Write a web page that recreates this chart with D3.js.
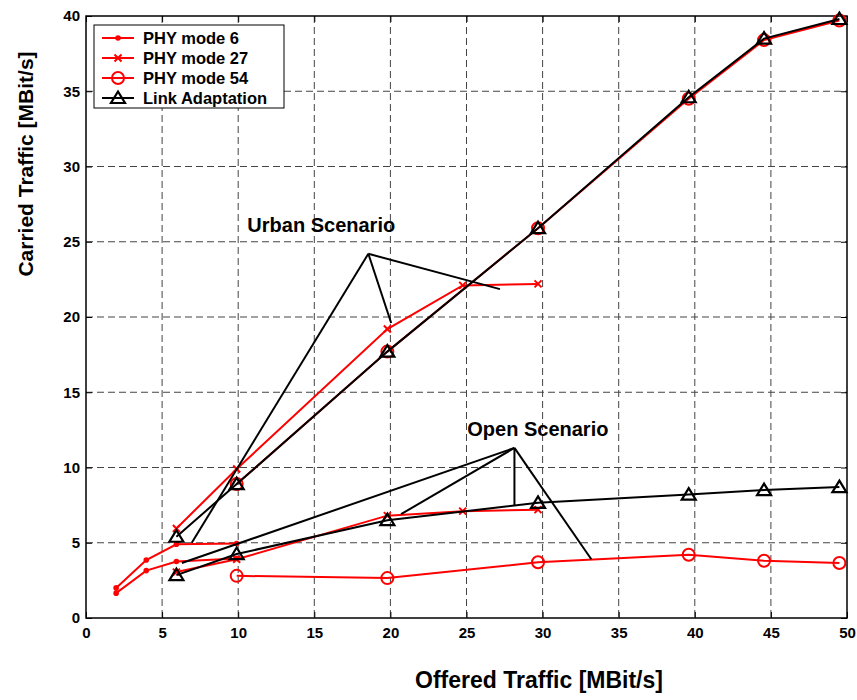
<!DOCTYPE html>
<html>
<head>
<meta charset="utf-8">
<script src="https://cdn.jsdelivr.net/npm/d3@7"></script>
<style>
  body { margin: 0; background: #fff; }
  svg { display: block; }
</style>
</head>
<body>
<script>
// Carried vs offered traffic, urban and open scenarios.

// ---------------------------------------------------------------------------
// Data
// ---------------------------------------------------------------------------

const X_TICKS = [0, 5, 10, 15, 20, 25, 30, 35, 40, 45, 50];
const Y_TICKS = [0, 5, 10, 15, 20, 25, 30, 35, 40];

const offeredLow = [1.98, 3.96, 5.94, 9.9];
const offeredMid = [5.94, 9.9, 19.8, 24.75, 29.7];
const offeredHigh = [9.9, 19.8, 29.7, 39.6, 44.55, 49.5];
const offeredLA = [5.94, 9.9, 19.8, 29.7, 39.6, 44.55, 49.5];

// urban scenario
const mode6Urban = [2.0, 3.85, 4.9, 4.95];
const mode27Urban = [5.95, 9.9, 19.2, 22.1, 22.2];
const mode54Urban = [8.9, 17.7, 25.9, 34.5, 38.4, 39.7];
const laUrban = [5.4, 8.9, 17.7, 25.9, 34.6, 38.5, 39.8];

// open scenario
const mode6Open = [1.65, 3.15, 3.75, 3.95];
const mode27Open = [3.05, 3.9, 6.8, 7.1, 7.2];
const mode54Open = [2.8, 2.65, 3.7, 4.2, 3.8, 3.65];
const laOpen = [2.85, 4.25, 6.5, 7.65, 8.2, 8.5, 8.7];

// annotation pointers: apex, then the points each line runs to
const urbanApex = [18.55, 24.2];
const urbanTargets = [[6.95, 5.0], [20.05, 19.6], [27.2, 21.85]];
const openApex = [28.15, 11.3];
const openTargets = [[6.3, 3.65], [20.7, 6.9], [28.15, 7.5], [33.2, 3.9]];

const LEGEND = ["PHY mode 6", "PHY mode 27", "PHY mode 54", "Link Adaptation"];

// ---------------------------------------------------------------------------
// Layout
// ---------------------------------------------------------------------------

const width = 857;
const height = 700;
const plot = { left: 86, right: 847, top: 16, bottom: 618 };
const RED = "#ff0000";
const FONT = "'Liberation Sans', Arial, sans-serif";

const svg = d3.select("body").append("svg")
  .attr("width", width)
  .attr("height", height)
  .attr("font-family", FONT);

svg.append("rect").attr("width", width).attr("height", height).attr("fill", "#fff");

const x = d3.scaleLinear().domain([0, 50]).range([plot.left, plot.right]);
const y = d3.scaleLinear().domain([0, 40]).range([plot.bottom, plot.top]);

// Grid.
const grid = svg.append("g")
  .attr("stroke", "#444")
  .attr("stroke-width", 1)
  .attr("stroke-dasharray", "7,4");
grid.selectAll("line.v")
  .data(X_TICKS.slice(1, -1))
  .join("line")
  .attr("x1", (d) => x(d)).attr("x2", (d) => x(d))
  .attr("y1", plot.top).attr("y2", plot.bottom);
grid.selectAll("line.h")
  .data(Y_TICKS.slice(1, -1))
  .join("line")
  .attr("x1", plot.left).attr("x2", plot.right)
  .attr("y1", (d) => y(d)).attr("y2", (d) => y(d));

// Axes (ticks point inwards, mirrored on top/right).
function styleAxis(g) {
  g.select(".domain").remove();
  g.selectAll(".tick line").attr("stroke", "#000").attr("stroke-width", 1);
  g.selectAll("text")
    .attr("font-family", FONT)
    .attr("font-size", 15)
    .attr("font-weight", "bold")
    .attr("fill", "#000");
}

svg.append("g")
  .attr("transform", `translate(0,${plot.bottom})`)
  .call(d3.axisBottom(x).tickValues(X_TICKS).tickSize(-6).tickPadding(9).tickFormat(d3.format("d")))
  .call(styleAxis);
svg.append("g")
  .attr("transform", `translate(0,${plot.top})`)
  .call(d3.axisTop(x).tickValues(X_TICKS).tickSize(-6).tickFormat(""))
  .call(styleAxis);
svg.append("g")
  .attr("transform", `translate(${plot.left},0)`)
  .call(d3.axisLeft(y).tickValues(Y_TICKS).tickSize(-6).tickPadding(6).tickFormat(d3.format("d")))
  .call(styleAxis);
svg.append("g")
  .attr("transform", `translate(${plot.right},0)`)
  .call(d3.axisRight(y).tickValues(Y_TICKS).tickSize(-6).tickFormat(""))
  .call(styleAxis);

svg.append("rect")
  .attr("x", plot.left).attr("y", plot.top)
  .attr("width", plot.right - plot.left).attr("height", plot.bottom - plot.top)
  .attr("fill", "none").attr("stroke", "#000").attr("stroke-width", 1.5);

// ---------------------------------------------------------------------------
// Series
// ---------------------------------------------------------------------------

const line = d3.line().x((d) => x(d[0])).y((d) => y(d[1]));
const zip = (xs, ys) => xs.map((v, i) => [v, ys[i]]);

function drawMarker(g, kind, color) {
  if (kind === "dot") {
    g.append("circle").attr("r", 2.8).attr("fill", color);
  } else if (kind === "x") {
    g.append("path").attr("d", "M-3.5,-3.5L3.5,3.5M-3.5,3.5L3.5,-3.5")
      .attr("stroke", color).attr("stroke-width", 2).attr("fill", "none");
  } else if (kind === "circle") {
    g.append("circle").attr("r", 6).attr("fill", "none")
      .attr("stroke", color).attr("stroke-width", 2);
  } else if (kind === "tri") {
    g.append("path").attr("d", "M0,-6.5L7,5L-7,5Z").attr("fill", "none")
      .attr("stroke", color).attr("stroke-width", 2.2).attr("stroke-linejoin", "miter");
  }
}

function drawSeries(pts, color, marker) {
  const g = svg.append("g");
  g.append("path").attr("d", line(pts))
    .attr("fill", "none").attr("stroke", color).attr("stroke-width", 2);
  for (const p of pts) {
    drawMarker(g.append("g").attr("transform", `translate(${x(p[0])},${y(p[1])})`), marker, color);
  }
}

drawSeries(zip(offeredLow, mode6Urban), RED, "dot");
drawSeries(zip(offeredLow, mode6Open), RED, "dot");
drawSeries(zip(offeredMid, mode27Urban), RED, "x");
drawSeries(zip(offeredMid, mode27Open), RED, "x");
drawSeries(zip(offeredHigh, mode54Urban), RED, "circle");
drawSeries(zip(offeredHigh, mode54Open), RED, "circle");
drawSeries(zip(offeredLA, laUrban), "#000", "tri");
drawSeries(zip(offeredLA, laOpen), "#000", "tri");

// ---------------------------------------------------------------------------
// Annotations
// ---------------------------------------------------------------------------

function pointer(apex, targets) {
  for (const t of targets) {
    svg.append("line")
      .attr("x1", x(apex[0])).attr("y1", y(apex[1]))
      .attr("x2", x(t[0])).attr("y2", y(t[1]))
      .attr("stroke", "#000").attr("stroke-width", 2);
  }
}
pointer(urbanApex, urbanTargets);
pointer(openApex, openTargets);

svg.append("text")
  .attr("x", x(10.6)).attr("y", y(25.65))
  .attr("font-size", 20).attr("font-weight", "bold")
  .text("Urban Scenario");
svg.append("text")
  .attr("x", x(25.05)).attr("y", y(12.1))
  .attr("font-size", 20).attr("font-weight", "bold")
  .text("Open Scenario");

// ---------------------------------------------------------------------------
// Axis labels
// ---------------------------------------------------------------------------

svg.append("text")
  .attr("x", 539).attr("y", 688)
  .attr("text-anchor", "middle")
  .attr("font-size", 23).attr("font-weight", "bold")
  .text("Offered Traffic [MBit/s]");
svg.append("text")
  .attr("transform", "translate(33,164) rotate(-90)")
  .attr("text-anchor", "middle")
  .attr("font-size", 21).attr("font-weight", "bold")
  .text("Carried Traffic [MBit/s]");

// ---------------------------------------------------------------------------
// Legend
// ---------------------------------------------------------------------------

const legendMarkers = ["dot", "x", "circle", "tri"];
const legendColors = [RED, RED, RED, "#000"];
const legend = svg.append("g").attr("transform", "translate(94,25)");
legend.append("rect")
  .attr("width", 190).attr("height", 83)
  .attr("fill", "#fff").attr("stroke", "#000").attr("stroke-width", 1);
LEGEND.forEach((label, i) => {
  const ly = 13 + i * 20;
  legend.append("line")
    .attr("x1", 8).attr("x2", 40).attr("y1", ly).attr("y2", ly)
    .attr("stroke", legendColors[i]).attr("stroke-width", 2);
  drawMarker(legend.append("g").attr("transform", `translate(24,${ly})`), legendMarkers[i], legendColors[i]);
  legend.append("text")
    .attr("x", 49).attr("y", ly + 6)
    .attr("font-size", 16.5).attr("font-weight", "bold")
    .text(label);
});
</script>
</body>
</html>
